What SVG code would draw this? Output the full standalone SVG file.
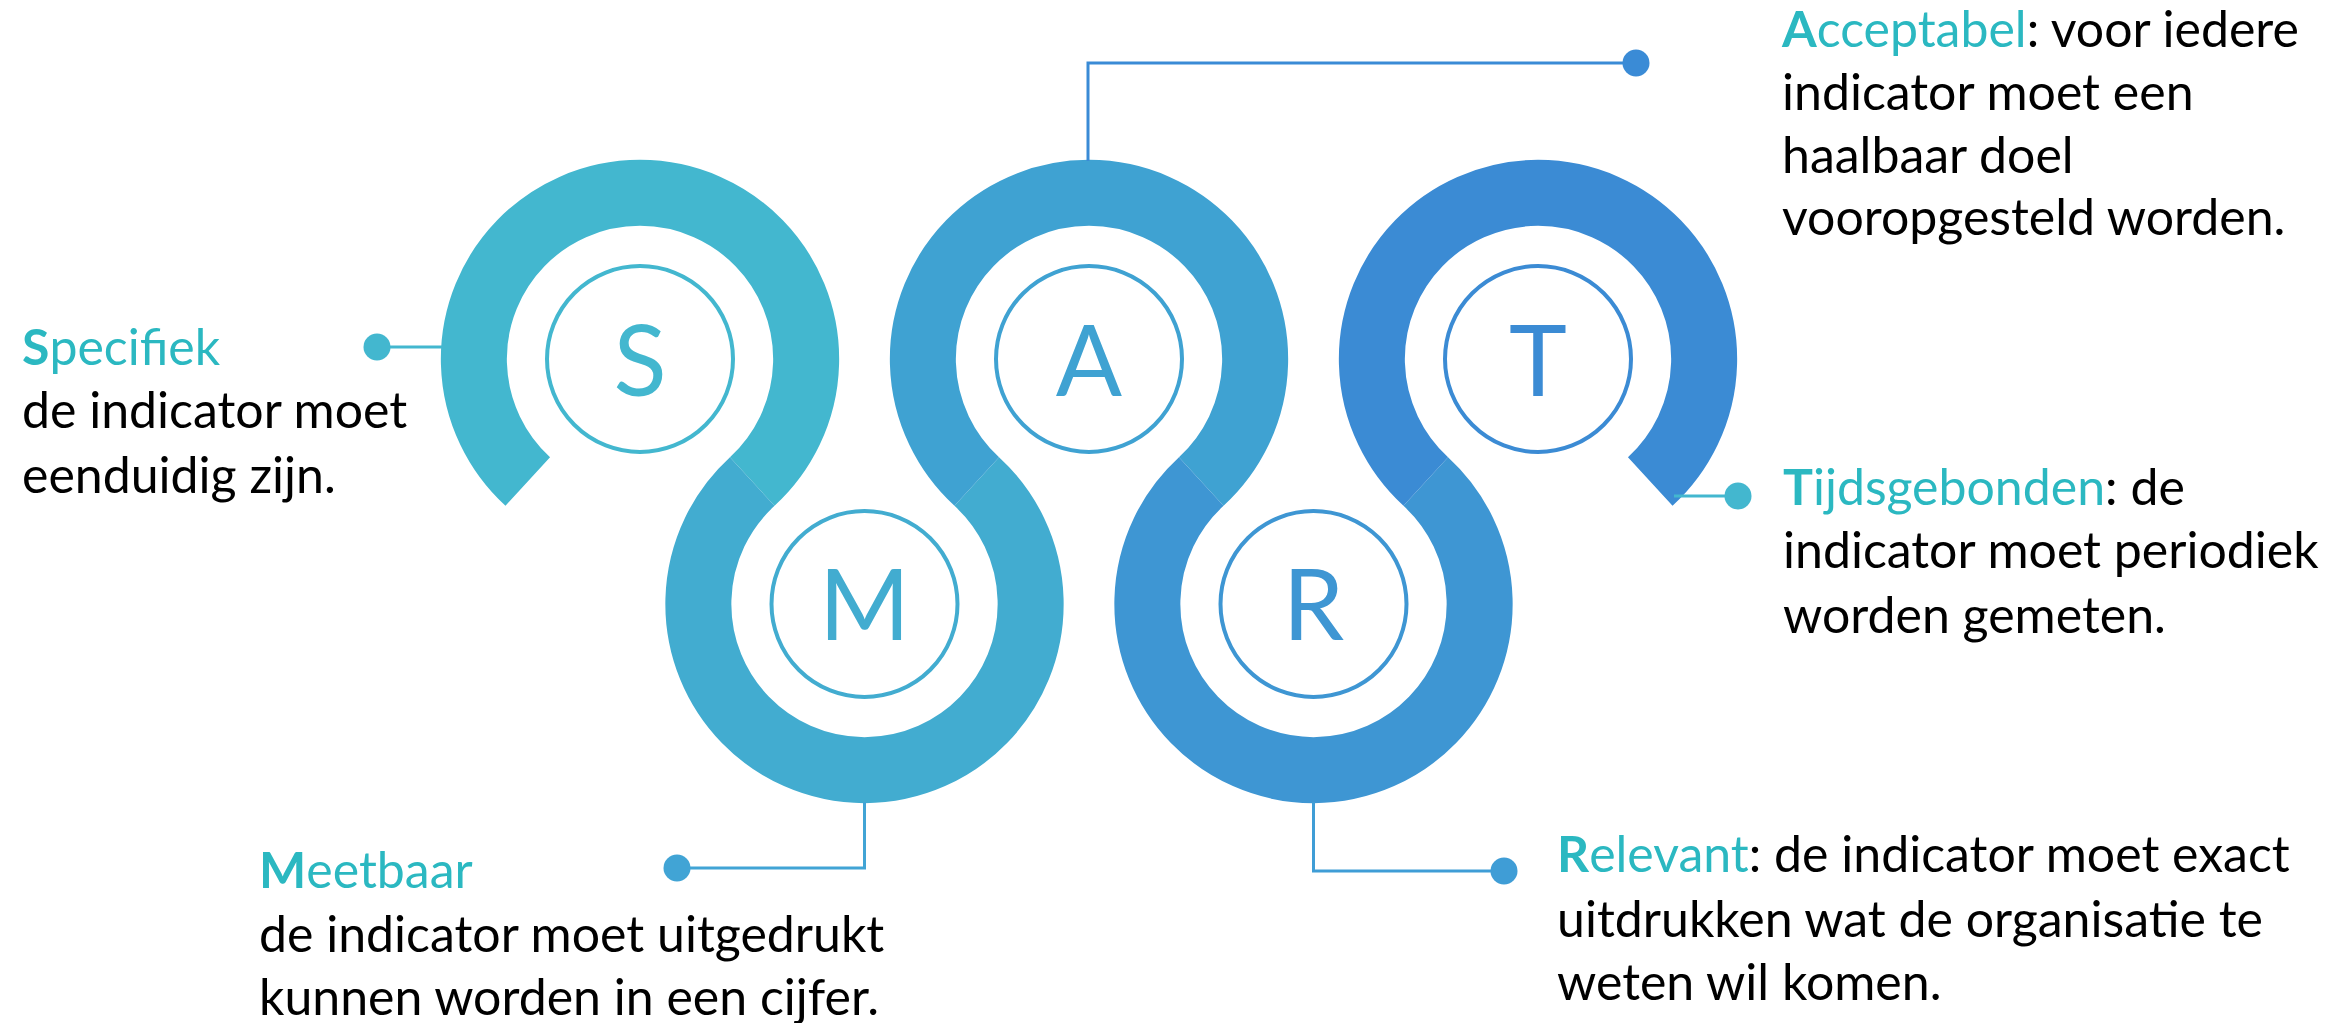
<svg xmlns="http://www.w3.org/2000/svg" width="2333" height="1023" viewBox="0 0 2333 1023">
<style>
.ring{fill:none;stroke-width:66;stroke-linecap:butt}
.inner{fill:#fff;stroke-width:4}
.letter{font-family:Lato,"Open Sans",sans-serif;font-size:98px;font-weight:400;text-anchor:middle}
.txt{font-family:Lato,"Liberation Sans",sans-serif;font-size:50px;fill:#000}
.hd{fill:#2BB8C1}
.b{font-weight:bold}
.con{fill:none;stroke-width:3}
</style>
<rect width="2333" height="1023" fill="#fff"/>
<g id="node-S">
<path class="ring" stroke="#43B7CF" d="M527.75,481.5 A166.15,166.15 0 1 1 752.25,481.5"/>
<circle class="inner" cx="640" cy="359" r="93" stroke="#43B7CF"/>
<text class="letter" x="640" y="396" fill="#43B7CF">S</text>
</g>
<g id="node-M">
<path class="ring" stroke="#42ACD0" d="M752.25,481.5 A166.15,166.15 0 1 0 976.75,481.5"/>
<circle class="inner" cx="864.5" cy="604" r="93" stroke="#42ACD0"/>
<text class="letter" x="864.5" y="640" fill="#42ACD0">M</text>
</g>
<g id="node-A">
<path class="ring" stroke="#3FA2D2" d="M976.75,481.5 A166.15,166.15 0 1 1 1201.25,481.5"/>
<circle class="inner" cx="1089" cy="359" r="93" stroke="#3FA2D2"/>
<text class="letter" x="1089" y="396" fill="#3FA2D2">A</text>
</g>
<g id="node-R">
<path class="ring" stroke="#3E96D3" d="M1201.25,481.5 A166.15,166.15 0 1 0 1425.75,481.5"/>
<circle class="inner" cx="1313.5" cy="604" r="93" stroke="#3E96D3"/>
<text class="letter" x="1313.5" y="640" fill="#3E96D3">R</text>
</g>
<g id="node-T">
<path class="ring" stroke="#3B8BD4" d="M1425.75,481.5 A166.15,166.15 0 1 1 1650.25,481.5"/>
<circle class="inner" cx="1538" cy="359" r="93" stroke="#3B8BD4"/>
<text class="letter" x="1538" y="396" fill="#3B8BD4">T</text>
</g>
<g id="connectors">
<path class="con" stroke="#43B7CF" d="M377,347 H442"/>
<circle cx="377" cy="347" r="13.5" fill="#43B7CF"/>
<path class="con" stroke="#41A4D5" d="M677,868 H864.5 V802"/>
<circle cx="677" cy="868" r="13.5" fill="#41A4D5"/>
<path class="con" stroke="#3A8BD6" d="M1088,161 V63 H1636"/>
<circle cx="1636" cy="63" r="13.5" fill="#3A8BD6"/>
<path class="con" stroke="#3F9DD6" d="M1313.5,802 V871 H1504"/>
<circle cx="1504" cy="871" r="13.5" fill="#3F9DD6"/>
<path class="con" stroke="#43B7CF" d="M1674,496 H1738"/>
<circle cx="1738" cy="496" r="13.5" fill="#43B7CF"/>
</g>
<g id="text-S">
<text class="txt" x="22" y="365"><tspan class="hd b">S</tspan><tspan class="hd">pecifiek</tspan></text>
<text class="txt" x="22" y="428">de indicator moet</text>
<text class="txt" x="22" y="493">eenduidig zijn.</text>
</g>
<g id="text-A">
<text class="txt" x="1782" y="47"><tspan class="hd b">A</tspan><tspan class="hd">cceptabel</tspan>: voor iedere</text>
<text class="txt" x="1782" y="110">indicator moet een</text>
<text class="txt" x="1782" y="173">haalbaar doel</text>
<text class="txt" x="1782" y="235">vooropgesteld worden.</text>
</g>
<g id="text-T">
<text class="txt" x="1783" y="505"><tspan class="hd b">T</tspan><tspan class="hd">ijdsgebonden</tspan>: de</text>
<text class="txt" x="1783" y="568">indicator moet periodiek</text>
<text class="txt" x="1783" y="633">worden gemeten.</text>
</g>
<g id="text-M">
<text class="txt" x="259" y="888"><tspan class="hd b">M</tspan><tspan class="hd">eetbaar</tspan></text>
<text class="txt" x="259" y="952">de indicator moet uitgedrukt</text>
<text class="txt" x="259" y="1015">kunnen worden in een cijfer.</text>
</g>
<g id="text-R">
<text class="txt" x="1557" y="872"><tspan class="hd b">R</tspan><tspan class="hd">elevant</tspan>: de indicator moet exact</text>
<text class="txt" x="1557" y="937">uitdrukken wat de organisatie te</text>
<text class="txt" x="1557" y="1000">weten wil komen.</text>
</g>
</svg>
